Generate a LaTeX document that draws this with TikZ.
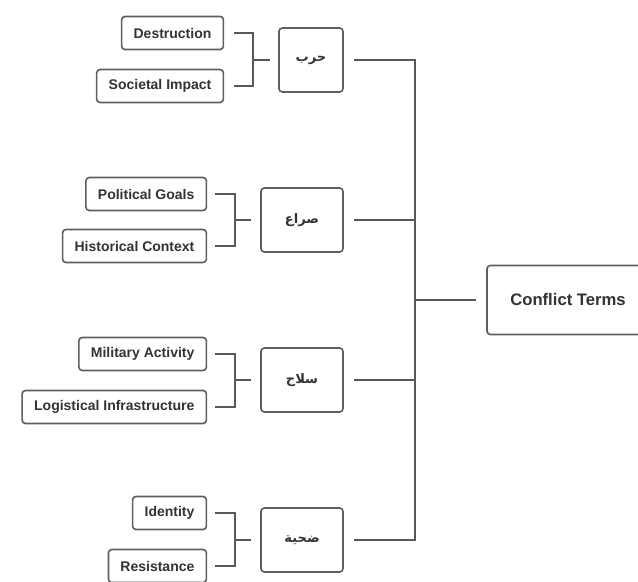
\documentclass[tikz,border=0pt]{standalone}
\usepackage{fontspec}
\setmainfont{Liberation Sans}
\newfontfamily\arabicfont[Script=Arabic]{DejaVu Sans}
\TeXXeTstate=1
\usetikzlibrary{positioning}
\definecolor{boxstroke}{HTML}{5E5E5E}
\definecolor{linestroke}{HTML}{595959}
\definecolor{textdark}{HTML}{333333}
\newdimen\pxu \pxu=0.75pt

\begin{document}
\begin{tikzpicture}[
    x=0.75pt, y=-0.75pt,
    % base box
    box/.style={
        rectangle,
        rounded corners=2.5pt,
        draw=boxstroke,
        line width=1.2pt,
        fill=white,
        text=textdark
    },
    % leaf boxes (right aligned text)
    leafbox/.style={box, font=\bfseries\fontsize{10.5}{13}\selectfont,
        minimum height=33\pxu, inner xsep=12\pxu},
    % term boxes (arabic)
    termbox/.style={box, font=\arabicfont\bfseries\fontsize{9.8}{12}\selectfont,
        minimum width=82\pxu, minimum height=64\pxu},
    % root box
    rootbox/.style={box, font=\bfseries\fontsize{12.5}{15}\selectfont,
        minimum width=162\pxu, minimum height=69\pxu},
    link/.style={draw=linestroke, line width=1.3pt}
]
\clip (0,0) rectangle (638,581);

% === ROOT ===
\node[rootbox] (root) at (568,300) {Conflict Terms};
\coordinate (tm) at (415,300);

% === TERMS ===
\node[termbox, minimum width=64\pxu] (harb) at (311,60) {\beginR حرب\endR};
\node[termbox] (sira) at (302,220) {\beginR صراع\endR};
\node[termbox] (silah) at (302,380) {\beginR سلاح\endR};
\node[termbox] (dahiya) at (302,540) {\beginR ضحية\endR};

% === LEAVES ===
\node[leafbox, left=54\pxu of harb, yshift=20.25pt] (destr) {Destruction};
\node[leafbox, left=54\pxu of harb, yshift=-19.5pt] (societ) {Societal Impact};
\node[leafbox, left=53\pxu of sira, yshift=19.5pt] (polit) {Political Goals};
\node[leafbox, left=53\pxu of sira, yshift=-19.5pt] (histor) {Historical Context};
\node[leafbox, left=53\pxu of silah, yshift=19.5pt] (milit) {Military Activity};
\node[leafbox, left=53\pxu of silah, yshift=-20.25pt] (logist) {Logistical Infrastructure};
\node[leafbox, left=53\pxu of dahiya, yshift=20.25pt] (ident) {Identity};
\node[leafbox, left=53\pxu of dahiya, yshift=-19.5pt] (resist) {Resistance};

% === BRACKETS ===
\coordinate (j1) at (253,60);
\coordinate (j2) at (235,220);
\coordinate (j3) at (235,380);
\coordinate (j4) at (235,540);
\draw[link] ([xshift=7.5pt]destr.east) -| (j1) |- ([xshift=7.5pt]societ.east);
\draw[link] (j1) -- ([xshift=-6.5pt]harb.west);
\draw[link] ([xshift=6pt]polit.east) -| (j2) |- ([xshift=6pt]histor.east);
\draw[link] (j2) -- ([xshift=-7pt]sira.west);
\draw[link] ([xshift=6pt]milit.east) -| (j3) |- ([xshift=6pt]logist.east);
\draw[link] (j3) -- ([xshift=-7pt]silah.west);
\draw[link] ([xshift=6pt]ident.east) -| (j4) |- ([xshift=6pt]resist.east);
\draw[link] (j4) -- ([xshift=-7pt]dahiya.west);

% === TRUNK ===
\draw[link] ([xshift=7.5pt]harb.east) -| (tm);
\draw[link] ([xshift=7.5pt]sira.east) -| (tm);
\draw[link] ([xshift=7.5pt]silah.east) -| (tm);
\draw[link] ([xshift=7.5pt]dahiya.east) -| (tm);
\draw[link] (tm) -- ([xshift=-7.5pt]root.west);
\end{tikzpicture}
\end{document}
